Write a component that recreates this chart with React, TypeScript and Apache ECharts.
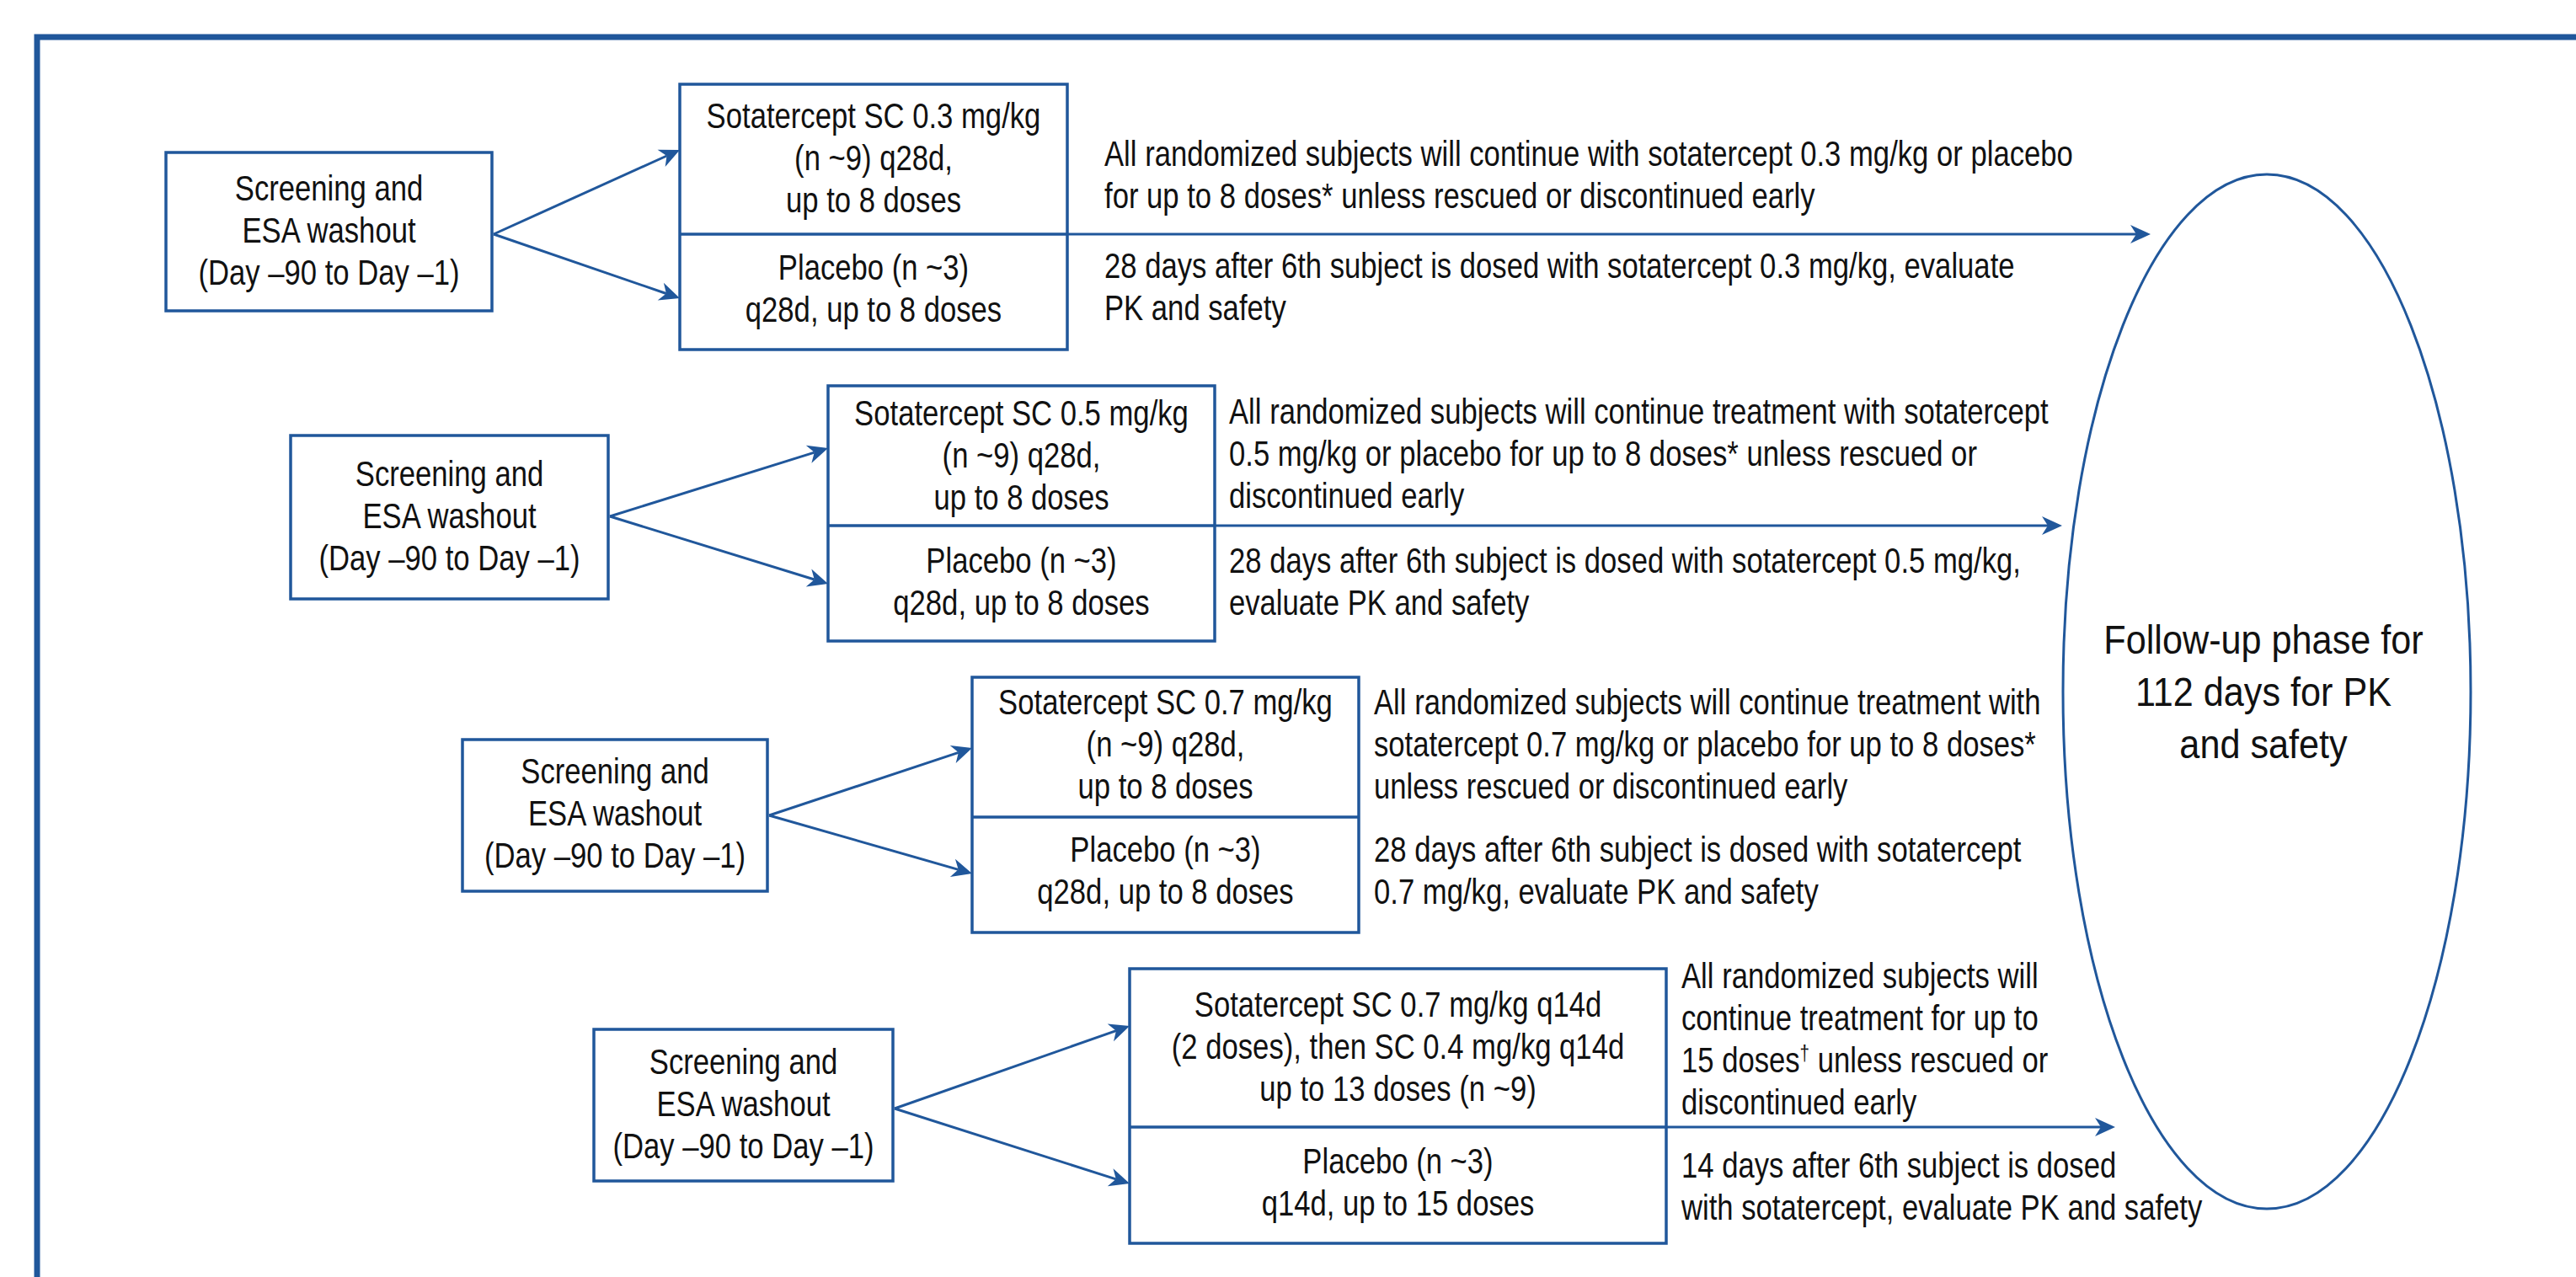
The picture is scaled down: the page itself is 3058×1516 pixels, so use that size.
import React, { useEffect, useRef } from "react";
import * as echarts from "echarts";

// ---------- content (text only) ----------
const screeningLines = ["Screening and", "ESA washout", "(Day –90 to Day –1)"];
const activeArmLines = [
  ["Sotatercept SC 0.3 mg/kg", "(n ~9) q28d,", "up to 8 doses"],
  ["Sotatercept SC 0.5 mg/kg", "(n ~9) q28d,", "up to 8 doses"],
  ["Sotatercept SC 0.7 mg/kg", "(n ~9) q28d,", "up to 8 doses"],
  ["Sotatercept SC 0.7 mg/kg q14d", "(2 doses), then SC 0.4 mg/kg q14d", "up to 13 doses (n ~9)"],
];
const placeboArmLines = [
  ["Placebo (n ~3)", "q28d, up to 8 doses"],
  ["Placebo (n ~3)", "q28d, up to 8 doses"],
  ["Placebo (n ~3)", "q28d, up to 8 doses"],
  ["Placebo (n ~3)", "q14d, up to 15 doses"],
];
const continueNotes = [
  ["All randomized subjects will continue with sotatercept 0.3 mg/kg or placebo", "for up to 8 doses* unless rescued or discontinued early"],
  ["All randomized subjects will continue treatment with sotatercept", "0.5 mg/kg or placebo for up to 8 doses* unless rescued or", "discontinued early"],
  ["All randomized subjects will continue treatment with", "sotatercept 0.7 mg/kg or placebo for up to 8 doses*", "unless rescued or discontinued early"],
  ["All randomized subjects will", "continue treatment for up to", "15 doses† unless rescued or", "discontinued early"],
];
const evaluationNotes = [
  ["28 days after 6th subject is dosed with sotatercept 0.3 mg/kg, evaluate", "PK and safety"],
  ["28 days after 6th subject is dosed with sotatercept 0.5 mg/kg,", "evaluate PK and safety"],
  ["28 days after 6th subject is dosed with sotatercept", "0.7 mg/kg, evaluate PK and safety"],
  ["14 days after 6th subject is dosed", "with sotatercept, evaluate PK and safety"],
];
const followUpLines = ["Follow-up phase for", "112 days for PK", "and safety"];
const arrowToFollowUp = [true, true, false, true];

// ---------- layout (pixels) ----------
const screenBox = [
  [197, 181, 584, 369],
  [345, 517, 722, 711],
  [549, 878, 911, 1058],
  [705, 1222, 1060, 1402],
];
// x0, y0, x1, yDivider, y1
const armBox = [
  [807, 100, 1267, 278, 415],
  [983, 458, 1442, 624, 761],
  [1154, 804, 1613, 970, 1107],
  [1341, 1150, 1978, 1338, 1476],
];
const splitOriginY = [278, 613, 968, 1316];
const splitTipUpperY = [178, 532, 888, 1218];
const splitTipLowerY = [354, 693, 1037, 1405];
const screenTextY = [238, 577, 930, 1275];
const activeTextY = [152, 505, 848, 1207];
const placeboTextY = [332, 680, 1023, 1393];
const noteX = [1311, 1459, 1631, 1996];
const continueY = [197, 503, 848, 1173];
const evalY = [330, 680, 1023, 1398];
const followArrowX = [2553, 2448, 0, 2511];
const ellipseShape = { cx: 2691, cy: 821, rx: 242, ry: 614 };
const followTextY = [776, 838, 900];

const BLUE = "#20579b";
const INK = "#111111";
const FONT = "'Liberation Sans', Arial, Helvetica, sans-serif";
const FS = 42;
const SQUEEZE = 0.825;
const STEP = 50;

function textEl(x: number, baseline: number, text: string, align: string, size = FS, squeeze = SQUEEZE) {
  const hasDagger = text.indexOf("†") >= 0;
  return {
    type: "text",
    x,
    y: baseline - size * 0.34,
    scaleX: squeeze,
    silent: true,
    style: {
      text: hasDagger ? text.replace("†", "{sup|†}") : text,
      fill: INK,
      fontFamily: FONT,
      fontSize: size,
      align,
      verticalAlign: "middle",
      rich: hasDagger
        ? { sup: { fontSize: 25, fill: INK, fontFamily: FONT, verticalAlign: "top", padding: [0, 0, 15, 0] } }
        : undefined,
    },
  };
}

function arrow(x0: number, y0: number, x1: number, y1: number) {
  const len = 24, half = 11, notch = 7;
  const dx = x1 - x0, dy = y1 - y0;
  const L = Math.sqrt(dx * dx + dy * dy);
  const ux = dx / L, uy = dy / L;
  const nx = -uy, ny = ux;
  const bx = x1 - ux * len, by = y1 - uy * len;
  const mx = x1 - ux * (len - notch), my = y1 - uy * (len - notch);
  return [
    {
      type: "line",
      silent: true,
      shape: { x1: x0, y1: y0, x2: mx, y2: my },
      style: { stroke: BLUE, lineWidth: 3 },
    },
    {
      type: "polygon",
      silent: true,
      shape: {
        points: [
          [x1, y1],
          [bx + nx * half, by + ny * half],
          [mx, my],
          [bx - nx * half, by - ny * half],
        ],
      },
      style: { fill: BLUE },
    },
  ];
}

function buildElements() {
  const els: any[] = [];
  // outer frame (right and bottom edges run off the page)
  els.push({
    type: "rect",
    silent: true,
    shape: { x: 44, y: 44, width: 3100, height: 1600 },
    style: { fill: "#ffffff", stroke: BLUE, lineWidth: 7 },
  });

  for (let i = 0; i < 4; i++) {
    const [sx0, sy0, sx1, sy1] = screenBox[i];
    els.push({
      type: "rect",
      silent: true,
      shape: { x: sx0, y: sy0, width: sx1 - sx0, height: sy1 - sy0 },
      style: { fill: "none", stroke: BLUE, lineWidth: 3.5 },
    });
    const scx = (sx0 + sx1) / 2;
    screeningLines.forEach((t, k) => els.push(textEl(scx, screenTextY[i] + k * STEP, t, "center")));

    const [ax0, ay0, ax1, ad, ay1] = armBox[i];
    els.push({
      type: "rect",
      silent: true,
      shape: { x: ax0, y: ay0, width: ax1 - ax0, height: ay1 - ay0 },
      style: { fill: "none", stroke: BLUE, lineWidth: 3.5 },
    });
    els.push({
      type: "line",
      silent: true,
      shape: { x1: ax0, y1: ad, x2: ax1, y2: ad },
      style: { stroke: BLUE, lineWidth: 3.5 },
    });
    const acx = (ax0 + ax1) / 2;
    activeArmLines[i].forEach((t, k) => els.push(textEl(acx, activeTextY[i] + k * STEP, t, "center")));
    placeboArmLines[i].forEach((t, k) => els.push(textEl(acx, placeboTextY[i] + k * STEP, t, "center")));

    // split arrows
    els.push(...arrow(sx1 + 2, splitOriginY[i], ax0, splitTipUpperY[i]));
    els.push(...arrow(sx1 + 2, splitOriginY[i], ax0, splitTipLowerY[i]));

    // notes
    continueNotes[i].forEach((t, k) => els.push(textEl(noteX[i], continueY[i] + k * STEP, t, "left")));
    evaluationNotes[i].forEach((t, k) => els.push(textEl(noteX[i], evalY[i] + k * STEP, t, "left")));

    if (arrowToFollowUp[i]) {
      els.push(...arrow(ax1, ad, followArrowX[i], ad));
    }
  }

  els.push({
    type: "ellipse",
    silent: true,
    shape: ellipseShape,
    style: { fill: "none", stroke: BLUE, lineWidth: 3 },
  });
  followUpLines.forEach((t, k) =>
    els.push(textEl(ellipseShape.cx - 4, followTextY[k], t, "center", 48, 0.9))
  );
  return els;
}

export default function App() {
  const ref = useRef<HTMLDivElement>(null);
  useEffect(() => {
    if (!ref.current) return;
    const chart = echarts.init(ref.current, undefined, { renderer: "svg" });
    chart.setOption({
      animation: false,
      backgroundColor: "#ffffff",
      graphic: { elements: buildElements() },
    });
    return () => chart.dispose();
  }, []);
  return (
    <div
      ref={ref}
      style={{ position: "fixed", left: 0, top: 0, width: 3058, height: 1516, background: "#fff" }}
    />
  );
}
